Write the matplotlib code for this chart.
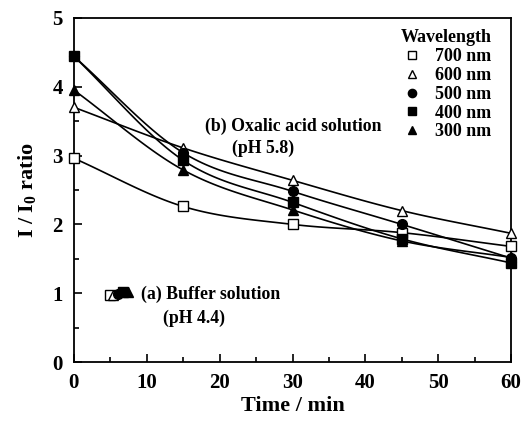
import matplotlib
matplotlib.use('Agg')
import matplotlib.pyplot as plt
import numpy as np

plt.rcParams['font.family'] = 'Liberation Serif'
plt.rcParams['font.weight'] = 'bold'
plt.rcParams['mathtext.fontset'] = 'custom'
plt.rcParams['mathtext.rm'] = 'Liberation Serif:bold'
plt.rcParams['mathtext.it'] = 'Liberation Serif:bold'
plt.rcParams['mathtext.bf'] = 'Liberation Serif:bold'

# (b) oxalic acid solution, pH 5.8
time = [0, 15, 30, 45, 60]
r700 = [2.96, 2.26, 2.00, 1.88, 1.68]
r600 = [3.70, 3.11, 2.64, 2.20, 1.87]
r500 = [4.44, 3.04, 2.48, 2.00, 1.51]
r400 = [4.44, 2.93, 2.32, 1.79, 1.44]
r300 = [3.95, 2.79, 2.21, 1.76, 1.52]

# (a) buffer solution, pH 4.4
buf_t = [4.9, 5.3, 6.1, 6.7, 7.4]
buf_r = [0.97, 0.97, 0.99, 1.02, 1.02]

labels = ['700 nm', '600 nm', '500 nm', '400 nm', '300 nm']
markers = ['s', '^', 'o', 's', '^']
faces = ['white', 'white', 'black', 'black', 'black']


def smooth(x, y, n=30):
    # catmull-rom curve through the measured points, only used for the drawn line
    x = np.asarray(x, float); y = np.asarray(y, float)
    px = np.concatenate([[2*x[0]-x[1]], x, [2*x[-1]-x[-2]]])
    py = np.concatenate([[2*y[0]-y[1]], y, [2*y[-1]-y[-2]]])
    xs, ys = [], []
    for i in range(1, len(px)-2):
        t = np.linspace(0, 1, n)
        for arr, out in ((px, xs), (py, ys)):
            p0, p1, p2, p3 = arr[i-1], arr[i], arr[i+1], arr[i+2]
            out.extend(0.5*((2*p1) + (-p0+p2)*t + (2*p0-5*p1+4*p2-p3)*t**2
                            + (-p0+3*p1-3*p2+p3)*t**3))
    return xs, ys


fig = plt.figure(figsize=(5.28, 4.24), dpi=100)
ax = fig.add_axes([0.140, 0.146, 0.828, 0.812])

series = [r700, r600, r500, r400, r300]
for vals, m, fc, lab in zip(series, markers, faces, labels):
    sx, sy = smooth(time, vals)
    ax.plot(sx, sy, '-', color='black', lw=1.2, zorder=2)
    ax.plot(time, vals, linestyle='none', marker=m, ms=7, mfc=fc, mec='black',
            mew=1.0, clip_on=False, zorder=3, label=lab)

for bt, br, m, fc in zip(buf_t, buf_r, markers, faces):
    ax.plot(bt, br, linestyle='none', marker=m, ms=7, mfc=fc, mec='black',
            mew=1.0, zorder=3)

ax.text(18.0, 3.43, '(b) Oxalic acid solution', fontsize=12.8, fontweight='bold', va='center')
ax.text(21.7, 3.11, '(pH 5.8)', fontsize=12.8, fontweight='bold', va='center')
ax.text(9.2, 0.98, '(a) Buffer solution', fontsize=12.8, fontweight='bold', va='center')
ax.text(12.2, 0.64, '(pH 4.4)', fontsize=12.8, fontweight='bold', va='center')

leg = ax.legend(title='Wavelength', loc='upper right', bbox_to_anchor=(0.985, 1.003),
                frameon=False, fontsize=13, handletextpad=0.7, labelspacing=0.1,
                handlelength=1.2, borderaxespad=0.3, markerscale=0.85)
leg.get_title().set_fontweight('bold')
leg.get_title().set_fontsize(13)
for t in leg.get_texts():
    t.set_fontweight('bold')

ax.set_xlim(0, 60)
ax.set_ylim(0, 5)
ax.set_xticks([0, 10, 20, 30, 40, 50, 60])
ax.set_xticks([5, 15, 25, 35, 45, 55], minor=True)
ax.set_yticks([0, 1, 2, 3, 4, 5])
ax.set_yticks([0.5, 1.5, 2.5, 3.5, 4.5], minor=True)
ax.tick_params(which='both', direction='in', top=False, right=False, width=1.2)
ax.tick_params(which='major', length=6, labelsize=15, pad=8)
ax.tick_params(which='minor', length=3.5)
for s in ax.spines.values():
    s.set_linewidth(1.3)

ax.set_xlabel('Time / min', fontsize=16, fontweight='bold', labelpad=2)
ax.set_ylabel('I / I$_0$ ratio', fontsize=16, fontweight='bold', labelpad=10)

fig.savefig('out.png', dpi=100)
